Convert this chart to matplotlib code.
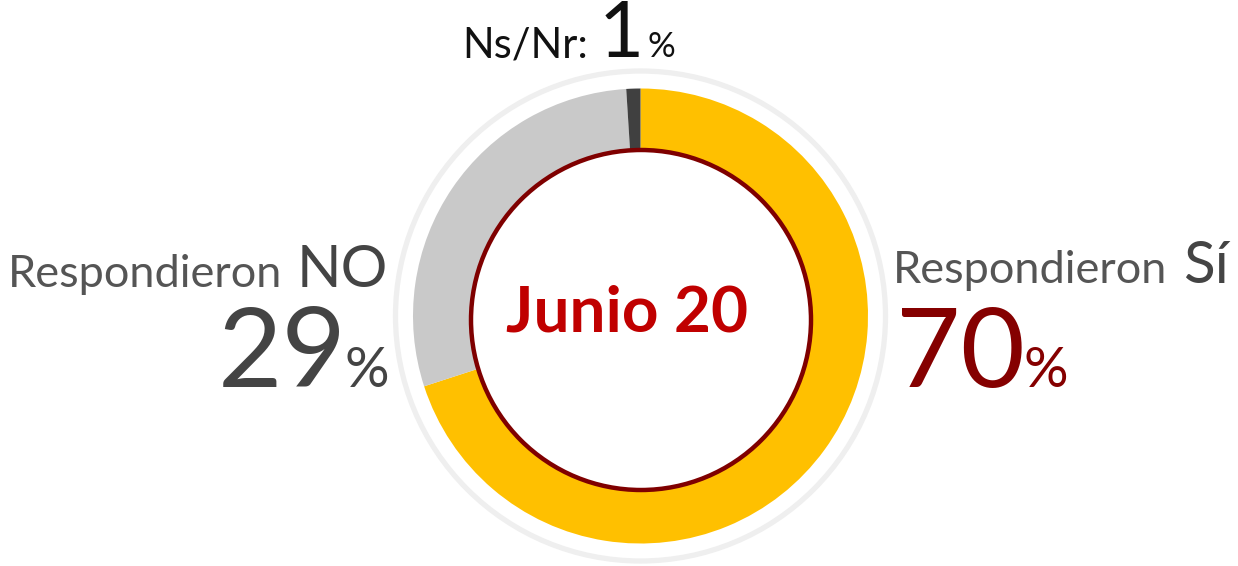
import matplotlib
matplotlib.use("Agg")
import matplotlib.pyplot as plt
from matplotlib.patches import Circle

# ---- data ----
categories = ["Sí", "No", "Ns/Nr"]
values = [70, 29, 1]
colors = ["#FFC000", "#C9C9C9", "#404040"]
center_label = "Junio 20"

W, H = 1238, 566
fig = plt.figure(figsize=(W / 100, H / 100), dpi=100)
ax = fig.add_axes([0, 0, 1, 1])

FONT = ["Lato", "DejaVu Sans"]

def Y(y):
    return H - y

cx, cy = 640.5, Y(316)
R = 227.5
ax.pie(values, colors=colors, startangle=90, counterclock=False,
       center=(cx, cy), radius=R,
       wedgeprops=dict(width=70, linewidth=0))

# outer thin ring
ax.add_patch(Circle((cx, cy), 245, fill=False, edgecolor="#EFEFEF", linewidth=3.8, zorder=0))
# inner white circle with dark red border
ax.add_patch(Circle((641, Y(320)), 170, facecolor="white", edgecolor="#7F0000", linewidth=3.2, zorder=5))

ax.set_xlim(0, W)
ax.set_ylim(0, H)
ax.set_aspect("equal")
ax.axis("off")

ax.text(627, Y(332), center_label, ha="center", va="baseline", fontsize=46,
        fontweight="bold", color="#C00000", family=FONT, zorder=6)

fig.canvas.draw()
renderer = fig.canvas.get_renderer()

def run(parts, x, y, align="left"):
    """parts: list of (text, size, color, gap_after_px). Lay out on a common baseline."""
    arts = []
    widths = []
    for t, s, c, g in parts:
        a = ax.text(0, Y(y), t, fontsize=s, color=c, family=FONT,
                    ha="left", va="baseline")
        bb = a.get_window_extent(renderer=renderer)
        arts.append(a)
        widths.append(bb.width + g)
    total = sum(widths)
    start = x if align == "left" else (x - total if align == "right" else x - total / 2)
    cur = start
    for a, w in zip(arts, widths):
        a.set_x(cur)
        cur += w

gray = "#444444"
pct = dict(zip(categories, values))

run([("Respondieron", 32.5, "#555555", 16), ("Sí", 42, gray, 0)], 893, 283, "left")
run([(f"{pct['Sí']}", 80, "#850000", -2), ("%", 40, "#850000", 0)], 896, 387, "left")

run([("Respondieron", 32.5, "#555555", 14), ("NO", 42, gray, 0)], 388, 287, "right")
run([(f"{pct['No']}", 80, gray, -2), ("%", 40, gray, 0)], 389, 387, "right")

run([("Ns/Nr:", 30, "#111111", 10), (f"{pct['Ns/Nr']}", 56, "#111111", 4), ("%", 25, "#111111", 0)], 569, 57, "center")

fig.savefig("out.png", dpi=100)
